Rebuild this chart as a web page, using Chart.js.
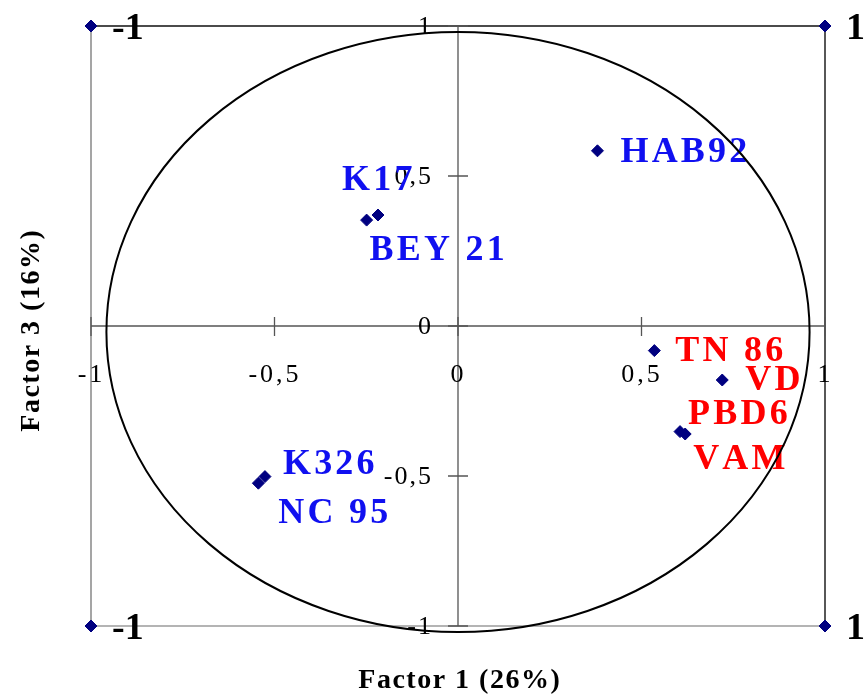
<!DOCTYPE html>
<html>
<head>
<meta charset="utf-8">
<script src="https://cdn.jsdelivr.net/npm/chart.js@4/dist/chart.umd.min.js"></script>
<style>
  html, body { margin: 0; padding: 0; background: #fff; }
  canvas { display: block; }
</style>
</head>
<body>
<canvas id="c" width="866" height="697"></canvas>
<script>
// Genotype scores on the first and third factors
const genotypes = ['HAB92', 'K17', 'BEY 21', 'TN 86', 'VD', 'PBD6', 'VAM', 'K326', 'NC 95'];
const factor1   = [0.380, -0.218, -0.249, 0.535, 0.720, 0.605, 0.619, -0.526, -0.544];
const factor3   = [0.584,  0.370,  0.353, -0.082, -0.180, -0.352, -0.360, -0.502, -0.524];
const groups    = ['A', 'A', 'A', 'B', 'B', 'B', 'B', 'A', 'A'];

// Corner markers of the unit square
const cornerX = [-1, 1, -1, 1];
const cornerY = [1, 1, -1, -1];

// Axis ticks
const tickValues = [-1, -0.5, 0, 0.5, 1];
const tickLabels = ['-1', '-0,5', '0', '0,5', '1'];

const xTitle = 'Factor 1 (26%)';
const yTitle = 'Factor 3 (16%)';

// Correlation circle (centre and radii in axis units)
const circle = { cx: 0, cy: -0.02, rx: 0.958, ry: 1.0 };

// Styling
const groupColor = { A: '#1010f0', B: '#ff0000' };
const labelOffset = [
  [23, -1], [-36, -37.5], [3, 28], [21, -2], [23, -2],
  [8, -20], [8, 22.5], [18, -15], [20, 28]
];
const SERIF = "'Liberation Serif', 'Times New Roman', serif";
const MARKER = '#000080';

function spacedText(ctx, text, x, y, spacing, align) {
  const chars = Array.from(text);
  const widths = chars.map(ch => ctx.measureText(ch).width);
  const total = widths.reduce((a, b) => a + b, 0) + spacing * (chars.length - 1);
  let sx = x;
  if (align === 'center') sx = x - total / 2;
  else if (align === 'right') sx = x - total;
  ctx.textAlign = 'left';
  chars.forEach((ch, i) => {
    ctx.fillText(ch, sx, y);
    sx += widths[i] + spacing;
  });
}

const overlay = {
  id: 'overlay',
  beforeDatasetsDraw(chart) {
    const { ctx, scales: { x, y } } = chart;
    const px = v => x.getPixelForValue(v);
    const py = v => y.getPixelForValue(v);
    ctx.save();
    ctx.lineCap = 'butt';

    // Frame: left / bottom grey, top / right black
    ctx.strokeStyle = '#6a6a6a';
    ctx.lineWidth = 1.2;
    ctx.beginPath();
    ctx.moveTo(px(-1), py(1)); ctx.lineTo(px(-1), py(-1)); ctx.lineTo(px(1), py(-1));
    ctx.stroke();
    ctx.strokeStyle = '#111';
    ctx.lineWidth = 1.4;
    ctx.beginPath();
    ctx.moveTo(px(-1), py(1)); ctx.lineTo(px(1), py(1)); ctx.lineTo(px(1), py(-1));
    ctx.stroke();

    // Axes through the origin
    ctx.strokeStyle = '#555';
    ctx.lineWidth = 1.3;
    ctx.beginPath();
    ctx.moveTo(px(-1), py(0)); ctx.lineTo(px(1), py(0));
    ctx.moveTo(px(0), py(1)); ctx.lineTo(px(0), py(-1));
    ctx.stroke();

    // Cross ticks
    ctx.beginPath();
    tickValues.forEach(v => {
      ctx.moveTo(px(0) - 10, py(v)); ctx.lineTo(px(0) + 10, py(v));
      ctx.moveTo(px(v), py(0) - 9); ctx.lineTo(px(v), py(0) + 10);
    });
    ctx.stroke();

    // Tick labels
    ctx.fillStyle = '#000';
    ctx.font = `26px ${SERIF}`;
    ctx.textBaseline = 'alphabetic';
    tickValues.forEach((v, i) => {
      spacedText(ctx, tickLabels[i], px(0) - 27, py(v) + 8, 2, 'right');
      spacedText(ctx, tickLabels[i], px(v) - 1, py(0) + 56, 3, 'center');
    });

    // Axis titles
    ctx.font = `bold 28px ${SERIF}`;
    spacedText(ctx, xTitle, px(0) + 1, 688, 1.5, 'center');
    ctx.save();
    ctx.translate(39, py(0) + 5);
    ctx.rotate(-Math.PI / 2);
    spacedText(ctx, yTitle, 0, 0, 1.5, 'center');
    ctx.restore();

    // Genotype labels
    ctx.font = `bold 36px ${SERIF}`;
    genotypes.forEach((g, i) => {
      ctx.fillStyle = groupColor[groups[i]];
      const [dx, dy] = labelOffset[i];
      spacedText(ctx, g, px(factor1[i]) + dx, py(factor3[i]) + dy + 12, 3.2, 'left');
    });

    // Corner labels (x coordinate of each corner)
    ctx.fillStyle = '#000';
    ctx.font = `bold 38px ${SERIF}`;
    cornerX.forEach((cx, i) => {
      ctx.textAlign = 'left';
      ctx.fillText(String(cx), px(cx) + 21, py(cornerY[i]) + 13);
    });

    // Correlation circle
    ctx.strokeStyle = '#000';
    ctx.lineWidth = 2;
    ctx.beginPath();
    ctx.ellipse(px(circle.cx), py(circle.cy),
      Math.abs(px(circle.rx) - px(0)), Math.abs(py(circle.ry) - py(0)),
      0, 0, Math.PI * 2);
    ctx.stroke();

    ctx.restore();
  }
};

new Chart(document.getElementById('c'), {
  type: 'scatter',
  data: {
    datasets: [
      {
        data: genotypes.map((g, i) => ({ x: factor1[i], y: factor3[i] })),
        pointStyle: 'rectRot', pointRadius: 6, pointHoverRadius: 6,
        backgroundColor: MARKER, borderColor: MARKER, borderWidth: 1, clip: false
      },
      {
        data: cornerX.map((v, i) => ({ x: v, y: cornerY[i] })),
        pointStyle: 'rectRot', pointRadius: 6, pointHoverRadius: 6,
        backgroundColor: MARKER, borderColor: MARKER, borderWidth: 1, clip: false
      }
    ]
  },
  options: {
    responsive: false,
    animation: false,
    events: [],
    layout: { padding: { left: 91, top: 26, right: 41, bottom: 71 } },
    plugins: { legend: { display: false }, tooltip: { enabled: false } },
    scales: {
      x: { type: 'linear', min: -1, max: 1, display: false },
      y: { type: 'linear', min: -1, max: 1, display: false }
    }
  },
  plugins: [overlay]
});
</script>
</body>
</html>
